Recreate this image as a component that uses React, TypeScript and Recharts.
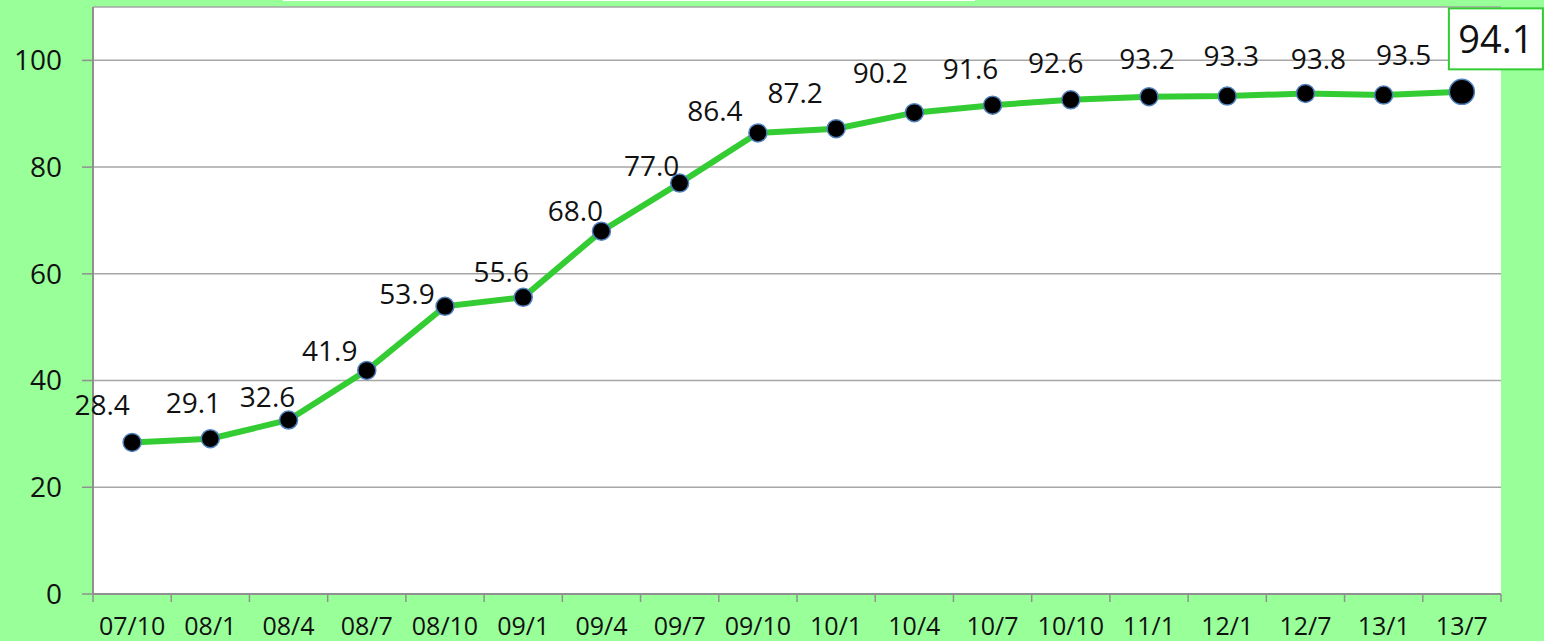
import React from "react";
import {
  ComposedChart,
  Line,
  XAxis,
  YAxis,
  CartesianGrid,
  LabelList,
} from "recharts";

const periods = [
  "07/10", "08/1", "08/4", "08/7", "08/10", "09/1", "09/4", "09/7", "09/10",
  "10/1", "10/4", "10/7", "10/10", "11/1", "12/1", "12/7", "13/1", "13/7",
];
const coverage = [
  28.4, 29.1, 32.6, 41.9, 53.9, 55.6, 68.0, 77.0, 86.4,
  87.2, 90.2, 91.6, 92.6, 93.2, 93.3, 93.8, 93.5, 94.1,
];
const yTicks = [0, 20, 40, 60, 80, 100];

// label offsets from each point (as placed by hand in the original)
const labelShift: [number, number][] = [
  [-30, -38], [-17, -36], [-21, -23], [-37, -19], [-38, -12], [-22, -25],
  [-26, -20], [-28, -17], [-43, -22], [-41, -36], [-34, -40], [-22, -36],
  [-15, -37], [-2, -38], [4, -40], [13, -35], [20, -40], [34, -53],
];

const W = 1544;
const H = 641;
const LEFT = 93;
const RIGHT_GAP = 43;
const TOP = 7;
const X_AXIS_H = 47;
const AXIS_Y = H - X_AXIS_H;
const BAND = (W - LEFT - RIGHT_GAP) / periods.length;

const FONT = "'Open Sans', 'Noto Sans', sans-serif";
const GREEN = "#33CC33";
const AXIS_GRAY = "#909090";

const chartData = periods.map((p, i) => ({ period: p, value: coverage[i] }));

function XTick(props: any) {
  const { x, payload, index } = props;
  const last = index === periods.length - 1;
  return (
    <g>
      <line x1={x - BAND / 2} x2={x - BAND / 2} y1={AXIS_Y} y2={AXIS_Y + 8} stroke={AXIS_GRAY} strokeWidth={1.5} />
      {last && (
        <line x1={x + BAND / 2} x2={x + BAND / 2} y1={AXIS_Y} y2={AXIS_Y + 8} stroke={AXIS_GRAY} strokeWidth={1.5} />
      )}
      <text
        x={x}
        y={AXIS_Y + 32}
        dy="0.35em"
        textAnchor="middle"
        fontSize={25}
        fontFamily={FONT}
        fill="#111"
      >
        {payload.value}
      </text>
    </g>
  );
}

function Dot(props: any) {
  const { cx, cy, index } = props;
  if (cx == null || cy == null) return null;
  const big = index === coverage.length - 1;
  return (
    <circle
      cx={cx}
      cy={cy}
      r={big ? 12.5 : 9}
      fill="#000"
      stroke="#4F81BD"
      strokeWidth={1.5}
    />
  );
}

function PointLabel(props: any) {
  const vb = props.viewBox || {};
  const x = props.x ?? vb.x;
  const y = props.y ?? vb.y;
  const value = Number(props.value);
  const i = typeof props.index === "number" ? props.index : coverage.indexOf(value);
  if (i < 0 || x == null || y == null) return null;
  const [dx, dy] = labelShift[i];
  const text = value.toFixed(1);
  if (i === coverage.length - 1) {
    return (
      <g>
        <rect x={x + dx - 47} y={y + dy - 30.5} width={94} height={61} fill="#fff" stroke={GREEN} strokeWidth={2} />
        <text
          x={x + dx}
          y={y + dy}
          dy="0.36em"
          textAnchor="middle"
          fontSize={38}
          fontFamily={FONT}
          fill="#111"
        >
          {text}
        </text>
      </g>
    );
  }
  return (
    <text
      x={x + dx}
      y={y + dy}
      dy="0.36em"
      textAnchor="middle"
      fontSize={28}
      fontFamily={FONT}
      fill="#111"
    >
      {text}
    </text>
  );
}

export default function App() {
  return (
    <div style={{ position: "relative", width: W, height: H, background: "#99FF99" }}>
      <style>{"body{margin:0}"}</style>
      <div style={{ position: "absolute", left: 283, top: 0, width: 692, height: 1, background: "#fff" }} />
      <ComposedChart
        width={W}
        height={H}
        data={chartData}
        margin={{ top: TOP, right: RIGHT_GAP, left: 0, bottom: 0 }}
      >
        <CartesianGrid vertical={false} stroke="#A6A6A6" strokeWidth={1.5} fill="#fff" />
        <XAxis
          dataKey="period"
          scale="band"
          height={X_AXIS_H}
          interval={0}
          tickLine={false}
          axisLine={{ stroke: AXIS_GRAY, strokeWidth: 2 }}
          tick={<XTick />}
        />
        <YAxis
          width={LEFT}
          domain={[0, 110]}
          ticks={yTicks}
          tickSize={11}
          tickMargin={20}
          axisLine={{ stroke: AXIS_GRAY, strokeWidth: 2 }}
          tickLine={{ stroke: AXIS_GRAY, strokeWidth: 1.5 }}
          tick={{ fontSize: 28, fontFamily: FONT, fill: "#111" }}
        />
        <Line
          dataKey="value"
          stroke={GREEN}
          strokeWidth={6}
          dot={(p: any) => <Dot {...p} key={`d${p.index}`} />}
          activeDot={false}
          isAnimationActive={false}
        >
          <LabelList dataKey="value" content={(p: any) => <PointLabel {...p} />} />
        </Line>
      </ComposedChart>
    </div>
  );
}
